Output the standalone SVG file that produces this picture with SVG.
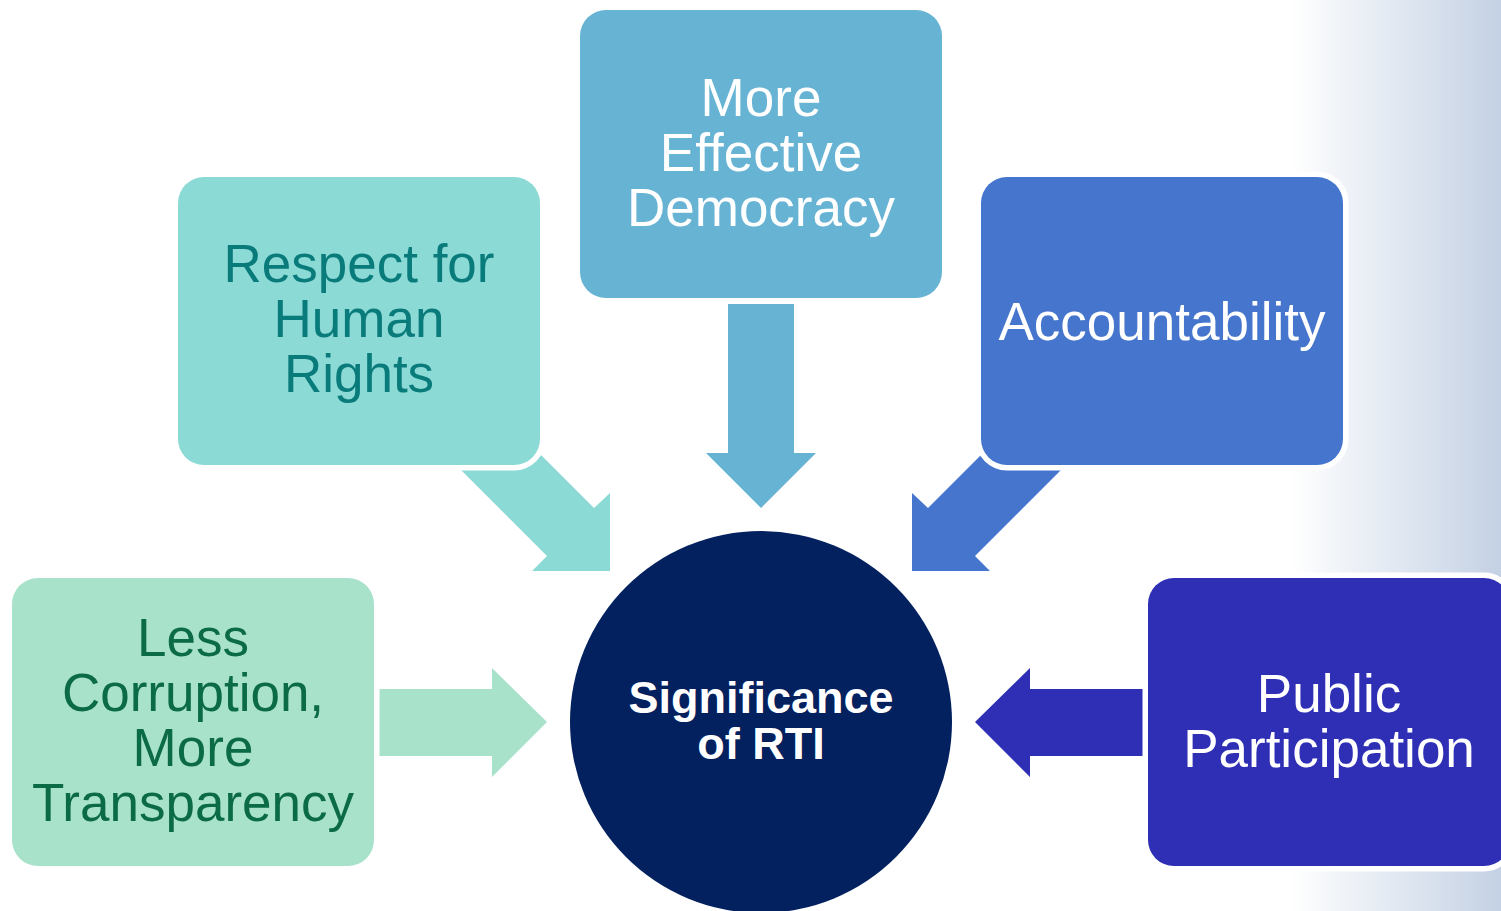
<svg xmlns="http://www.w3.org/2000/svg" width="1501" height="911" viewBox="0 0 1501 911">
  <defs>
    <linearGradient id="bg" x1="0" y1="0" x2="1" y2="0">
      <stop offset="0" stop-color="#ffffff"/>
      <stop offset="1" stop-color="#c4d1e4"/>
    </linearGradient>
  </defs>
  <style>
    .box { stroke: #ffffff; stroke-width: 11; paint-order: stroke; }
    .t { font-family: "Liberation Sans", Arial, sans-serif; font-size: 53px; text-anchor: middle; }
    .tb { font-family: "Liberation Sans", Arial, sans-serif; font-size: 45px; font-weight: bold; text-anchor: middle; fill: #ffffff; }
  </style>
  <rect x="0" y="0" width="1501" height="911" fill="#ffffff"/>
  <rect x="1290" y="0" width="211" height="911" fill="url(#bg)"/>

  <g id="connectors">
    <polygon points="728,304 794,304 794,453 816,453 761,508 706,453 728,453" fill="#66b3d3"/>
    <polygon points="610,571 610,493 594,508 467,381 420,429 547,556 532,571" fill="#8bdad5"/>
    <polygon points="912,571 912,493 928,508 1055,381 1102,429 975,556 990,571" fill="#4575cd"/>
    <polygon points="379,689 492,689 492,668 547,722 492,777 492,756 379,756" fill="#a9e2cb"/>
    <polygon points="1143,689 1030,689 1030,668 975,722 1030,777 1030,756 1143,756" fill="#2f2fb6"/>
  </g>

  <g id="node-democracy">
    <rect class="box" x="580" y="10" width="362" height="288" rx="26" fill="#66b3d3"/>
    <text class="t" fill="#ffffff"><tspan x="761" y="116">More</tspan><tspan x="761" y="171">Effective</tspan><tspan x="761" y="226">Democracy</tspan></text>
  </g>

  <g id="node-human-rights">
    <rect class="box" x="178" y="177" width="362" height="288" rx="26" fill="#8bdad5"/>
    <text class="t" fill="#0a7b7b"><tspan x="359" y="282">Respect for</tspan><tspan x="359" y="337">Human</tspan><tspan x="359" y="392">Rights</tspan></text>
  </g>

  <g id="node-accountability">
    <rect class="box" x="981" y="177" width="362" height="288" rx="26" fill="#4575cd"/>
    <text class="t" fill="#ffffff" x="1162" y="340">Accountability</text>
  </g>

  <g id="node-corruption">
    <rect class="box" x="12" y="578" width="362" height="288" rx="26" fill="#a9e2cb"/>
    <text class="t" fill="#0b6b47"><tspan x="193" y="656">Less</tspan><tspan x="193" y="711">Corruption,</tspan><tspan x="193" y="766">More</tspan><tspan x="193" y="821">Transparency</tspan></text>
  </g>

  <g id="node-participation">
    <rect class="box" x="1148" y="578" width="362" height="288" rx="26" fill="#2f2fb6"/>
    <text class="t" fill="#ffffff"><tspan x="1329" y="712">Public</tspan><tspan x="1329" y="767">Participation</tspan></text>
  </g>

  <g id="node-center">
    <circle cx="761" cy="722" r="191" fill="#03205f"/>
    <text class="tb"><tspan x="761" y="713">Significance</tspan><tspan x="761" y="759">of RTI</tspan></text>
  </g>
</svg>
